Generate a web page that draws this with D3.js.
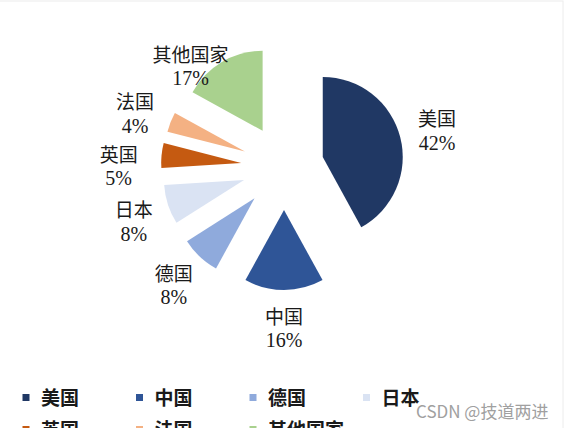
<!DOCTYPE html>
<html lang="zh">
<head>
	<meta charset="UTF-8">
	<title>各国占比</title>
	<script src="https://d3js.org/d3.v7.min.js"></script>
	<style>
		html, body { margin: 0; padding: 0; background: #fff; }
		svg { display: block; }
		.cn { font-family: "Noto Sans CJK SC", sans-serif; fill: #1a1a1a; }
		.pct { font-family: "Liberation Serif", "Times New Roman", serif; fill: #1a1a1a; }
	</style>
</head>
<body>
<div id="chart"></div>
<script>
	// data
	const countries = ["美国", "中国", "德国", "日本", "英国", "法国", "其他国家"];
	const shares = [42, 16, 8, 8, 5, 4, 17];
	const colors = ["#203864", "#2f5597", "#8faadc", "#dae3f3", "#c55a11", "#f4b183", "#a9d18e"];

	const sizeX = 568, sizeY = 428;
	const cx = 284, cy = 167, radius = 80;

	// how far each slice is pulled out of the pie
	const explode = [40, 43, 43, 42, 43, 42, 42];
	const labelR = 158;
	// data label tweaks (the original chart moved a couple of them)
	const labelNudge = [[0, 2], [0, 2], [-2, 2], [0, 5], [-8, 13], [-2, 4], [-13, 34]];

	const data = countries.map((c, i) => ({ name: c, value: shares[i], color: colors[i], idx: i }));

	const svg = d3.create("svg")
		.attr("width", sizeX)
		.attr("height", sizeY);

	// faint frame of the screenshot
	svg.append("rect")
		.attr("x", -3).attr("y", 1)
		.attr("width", 566).attr("height", 440)
		.attr("fill", "none")
		.attr("stroke", "#ececec");

	const pie = d3.pie().sort(null).value(d => d.value);
	const arc = d3.arc().innerRadius(0).outerRadius(radius);
	const arcs = pie(data);

	const g = svg.append("g").attr("transform", `translate(${cx},${cy})`);

	const mid = d => (d.startAngle + d.endAngle) / 2;

	g.selectAll("path.slice")
		.data(arcs)
		.join("path")
		.attr("class", "slice")
		.attr("d", arc)
		.attr("fill", d => d.data.color)
		.attr("transform", d => {
			const a = mid(d), e = explode[d.data.idx];
			return `translate(${Math.sin(a) * e},${-Math.cos(a) * e})`;
		});

	// data labels: name on top, percent below
	const labels = g.selectAll("g.lbl")
		.data(arcs)
		.join("g")
		.attr("class", "lbl")
		.attr("transform", d => {
			const a = mid(d), n = labelNudge[d.data.idx];
			return `translate(${Math.sin(a) * labelR + n[0]},${-Math.cos(a) * labelR + n[1]})`;
		});

	labels.append("text")
		.attr("class", "cn")
		.attr("text-anchor", "middle")
		.attr("dominant-baseline", "central")
		.attr("y", -12)
		.style("font-size", "19px")
		.text(d => d.data.name);

	labels.append("text")
		.attr("class", "pct")
		.attr("text-anchor", "middle")
		.attr("dominant-baseline", "central")
		.attr("y", 13)
		.style("font-size", "20px")
		.text(d => d.data.value + "%");

	// legend, 4 per row
	const legend = svg.append("g");
	const colW = 113.5, rowH = 32;
	const items = legend.selectAll("g")
		.data(data)
		.join("g")
		.attr("transform", (d, i) => `translate(${26 + (i % 4) * colW},${397 + Math.floor(i / 4) * rowH})`);

	items.append("rect")
		.attr("x", -3.5).attr("y", -3)
		.attr("width", 7).attr("height", 7)
		.attr("fill", d => d.color);

	items.append("text")
		.attr("class", "cn")
		.attr("x", 15)
		.attr("y", -1)
		.attr("dominant-baseline", "central")
		.style("font-size", "19px")
		.style("font-weight", "bold")
		.text(d => d.name);

	// watermark of the source page
	svg.append("text")
		.attr("x", 416)
		.attr("y", 410)
		.attr("dominant-baseline", "central")
		.style("font-family", "'Noto Sans CJK SC', sans-serif")
		.style("font-size", "17px")
		.style("fill", "#a0a0a0")
		.text("CSDN @技道两进");

	document.getElementById("chart").append(svg.node());
</script>
</body>
</html>
